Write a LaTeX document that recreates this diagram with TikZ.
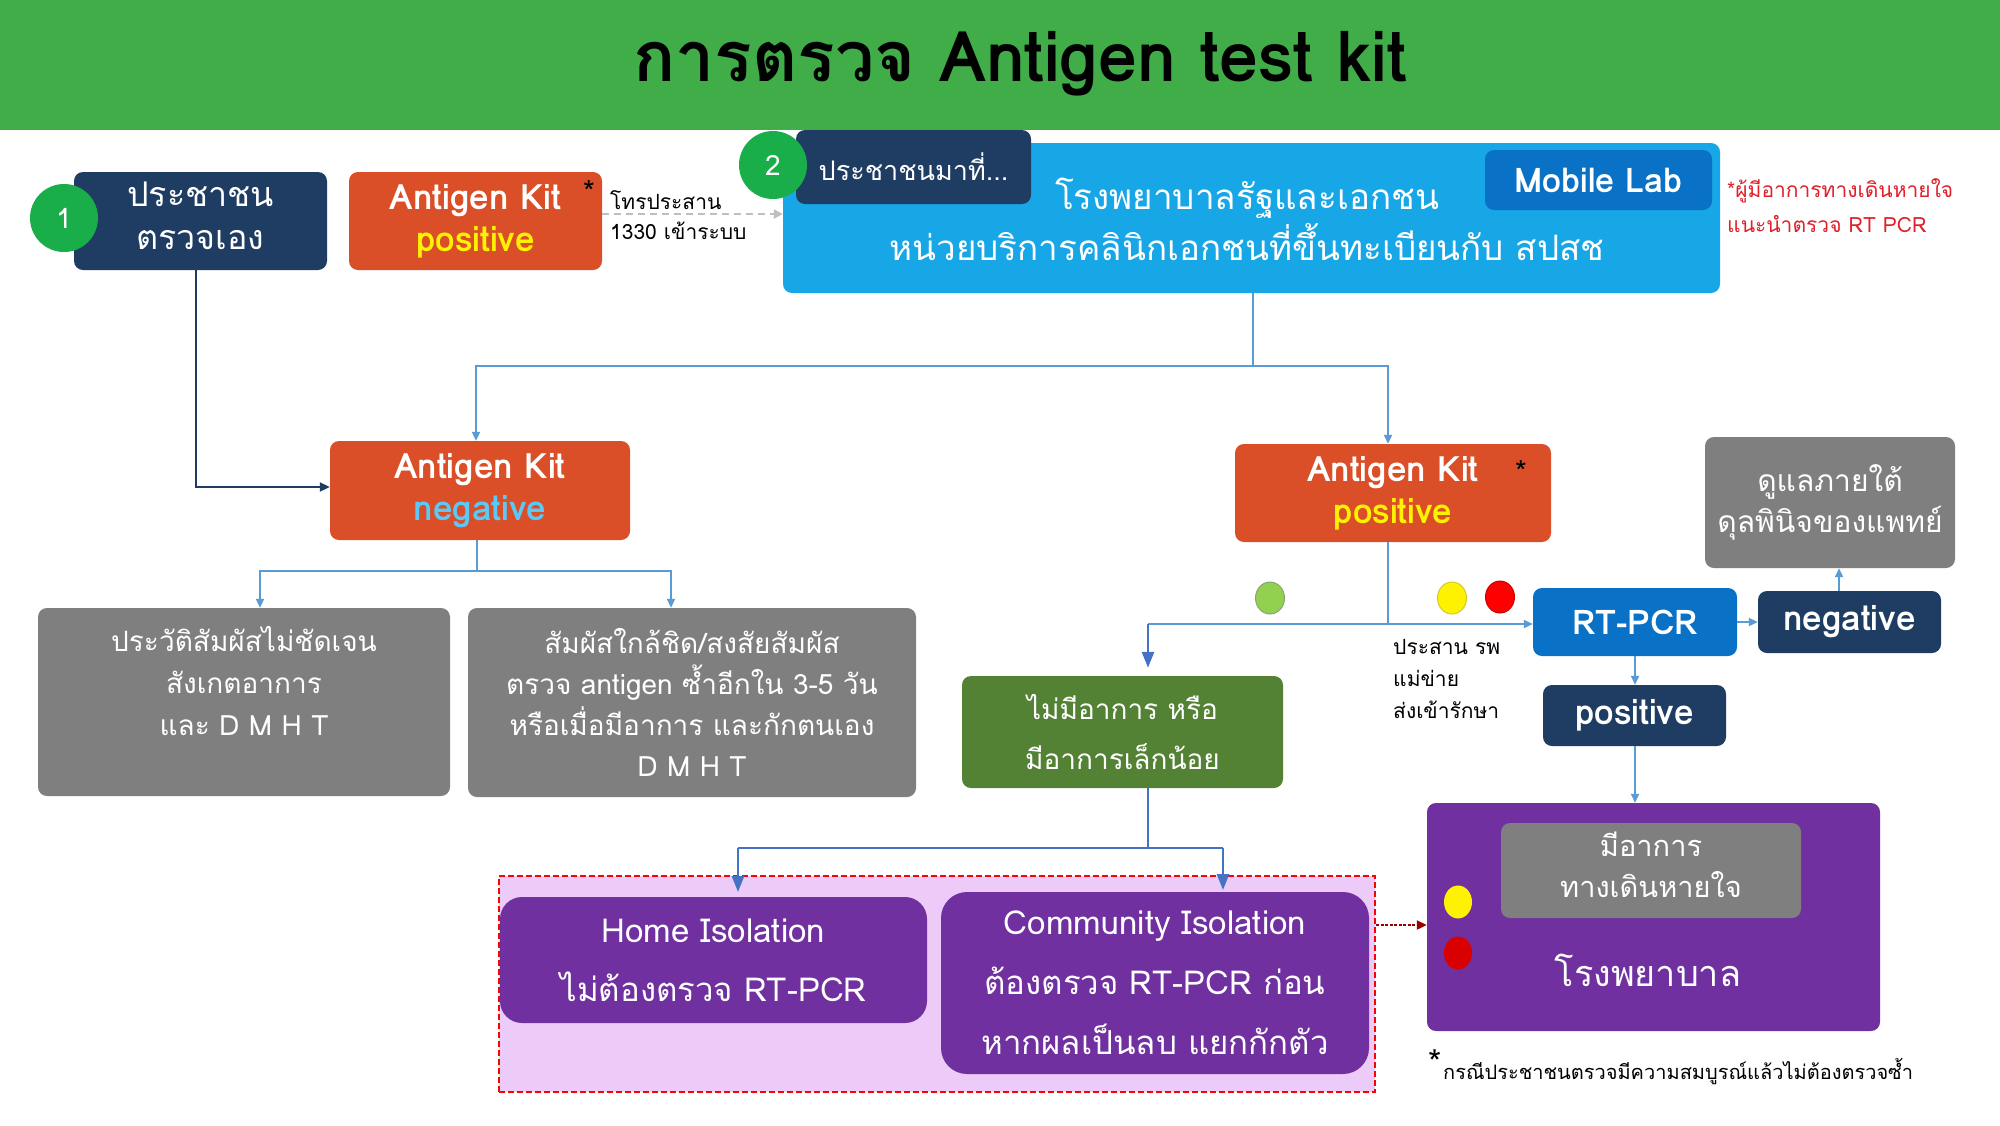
\documentclass[tikz,border=0pt]{standalone}
\usepackage{fontspec}
\setmainfont[Script=Thai]{Loma}
\usetikzlibrary{arrows.meta,shapes.geometric}
\definecolor{titlegreen}{HTML}{41AD49}
\definecolor{navy}{HTML}{1F3D63}
\definecolor{orangebox}{HTML}{DA4F27}
\definecolor{skyblue}{HTML}{17A6E6}
\definecolor{midblue}{HTML}{0A72C6}
\definecolor{graybox}{HTML}{7F7F7F}
\definecolor{greenbox}{HTML}{548235}
\definecolor{purplebox}{HTML}{7030A0}
\definecolor{lilac}{HTML}{EDCBF8}
\definecolor{connblue}{HTML}{5B9BD5}
\definecolor{arrowblue}{HTML}{4472C4}
\definecolor{circgreen}{HTML}{19AE4A}
\definecolor{dotgreen}{HTML}{92D050}
\definecolor{notered}{HTML}{E0202A}
\definecolor{negblue}{HTML}{5BC8F5}
\definecolor{posyellow}{HTML}{FFF200}
\newcommand\myfs[2]{\fontsize{#1}{#2}\selectfont}
\begin{document}
\begin{tikzpicture}[x=1pt,y=-1pt,
  box/.style={rounded corners=9pt, text=white, align=center, inner sep=0pt, anchor=center},
  plain/.style={inner sep=0pt, align=left, anchor=west},
  conn/.style={draw=connblue, line width=2pt},
  connarrow/.style={conn, -{Triangle[length=9pt,width=8pt]}},
  bluearrow/.style={draw=arrowblue, line width=2.6pt, -{Triangle[length=16pt,width=12pt]}},
  numcirc/.style={circle, fill=circgreen, text=white, inner sep=0pt, minimum size=68pt, font=\myfs{28}{30}},
  dot/.style={ellipse, inner sep=0pt, minimum width=29pt, minimum height=32pt}
]
\useasboundingbox (0,0) rectangle (2000,1125);
\fill[white] (0,0) rectangle (2000,1125);
% title bar
\fill[titlegreen] (0,0) rectangle (2000,130);
\node[inner sep=0pt, font=\myfs{70}{76}\bfseries] (title) at (1020,64) {การตรวจ Antigen test kit};

% row 1
\node[box, fill=navy, minimum width=253pt, minimum height=98pt, font=\myfs{34}{43}, text depth=10pt] (p1) at (200.5,221)
  {ประชาชน\\ตรวจเอง};
\node[numcirc] (c1) at (64,218) {1};
\node[box, fill=orangebox, minimum width=253pt, minimum height=98pt, font=\myfs{35}{42}\bfseries] (akp1) at (475.5,221)
  {Antigen Kit\\\textcolor{posyellow}{positive}};
\node[inner sep=0pt, font=\myfs{30}{30}] (ast1) at (589,192) {*};
\node[plain, font=\myfs{21}{24}] (call1) at (610,200) {โทรประสาน};
\node[plain, font=\myfs{21}{24}] (call2) at (610,231) {1330 เข้าระบบ};

\node[box, fill=skyblue, minimum width=937pt, minimum height=150pt] (hos) at (1251.5,218) {};
\node[inner sep=0pt, text=white, align=center, font=\myfs{35}{51}] (hostext) at (1247,219)
  {โรงพยาบาลรัฐและเอกชน\\หน่วยบริการคลินิกเอกชนที่ขึ้นทะเบียนกับ สปสช};
\node[box, fill=navy, minimum width=235pt, minimum height=74pt, font=\myfs{27}{30}] (pm) at (913.5,167)
  {ประชาชนมาที่...};
\node[numcirc] (c2) at (773,165) {2};
\node[box, fill=midblue, minimum width=227pt, minimum height=60pt, font=\myfs{34}{36}\bfseries] (mobile) at (1598.5,180)
  {Mobile Lab};
\node[plain, text=notered, font=\myfs{21}{24}] (note1) at (1727,191) {*ผู้มีอาการทางเดินหายใจ};
\node[plain, text=notered, font=\myfs{21}{24}] (note2) at (1727,224) {แนะนำตรวจ RT PCR};

% row 2
\node[box, fill=orangebox, minimum width=300pt, minimum height=99pt, font=\myfs{35}{42}\bfseries] (akn) at (480,490.5)
  {Antigen Kit\\\textcolor{negblue}{negative}};
\node[box, fill=orangebox, minimum width=316pt, minimum height=98pt, font=\myfs{35}{42}\bfseries] (akp2) at (1393,493)
  {Antigen Kit\\\textcolor{posyellow}{positive}};
\node[inner sep=0pt, font=\myfs{30}{30}] (ast2) at (1521,472) {*};
\node[box, fill=graybox, minimum width=250pt, minimum height=131pt, font=\myfs{30}{41}] (care) at (1830,502.5)
  {ดูแลภายใต้\\ดุลพินิจของแพทย์};

% row 3
\node[box, fill=graybox, minimum width=412pt, minimum height=188pt, font=\myfs{28}{42}, text depth=42pt] (g1) at (244,702)
  {ประวัติสัมผัสไม่ชัดเจน\\สังเกตอาการ\\และ D M H T};
\node[box, fill=graybox, minimum width=448pt, minimum height=189pt, font=\myfs{28}{41}] (g2) at (692,702.5)
  {สัมผัสใกล้ชิด/สงสัยสัมผัส\\ตรวจ antigen ซ้ำอีกใน 3-5 วัน\\หรือเมื่อมีอาการ และกักตนเอง\\D M H T};
\node[dot, fill=dotgreen, draw=greenbox!70, line width=1pt] (dg) at (1270,598) {};
\node[dot, fill=yellow, draw=yellow!80!black, line width=1pt] (dy) at (1452,598) {};
\node[dot, fill=red, draw=red!80!black, line width=1pt] (dr) at (1500,597) {};
\node[box, fill=midblue, minimum width=204pt, minimum height=68pt, font=\myfs{34}{40}\bfseries] (rt) at (1635,622)
  {RT-PCR};
\node[box, fill=navy, minimum width=183pt, minimum height=62pt, font=\myfs{35}{40}\bfseries] (neg) at (1849.5,622)
  {negative};
\node[box, fill=navy, minimum width=183pt, minimum height=61pt, font=\myfs{35}{40}\bfseries] (pos) at (1634.5,715.5)
  {positive};
\node[plain, align=left, font=\myfs{21}{32}] (coord) at (1393,679) {ประสาน รพ\\แม่ข่าย\\ส่งเข้ารักษา};
\node[box, fill=greenbox, minimum width=321pt, minimum height=112pt, font=\myfs{28}{50}] (mild) at (1122.5,732)
  {ไม่มีอาการ หรือ\\มีอาการเล็กน้อย};

% bottom
\node[draw=red, fill=lilac, dash pattern=on 6pt off 3pt, line width=2.5pt,
  minimum width=876pt, minimum height=216pt, inner sep=0pt] (iso) at (937,984) {};
\node[box, rounded corners=22pt, fill=purplebox, minimum width=427pt, minimum height=126pt, font=\myfs{33}{59}] (home) at (713.5,960)
  {Home Isolation\\ไม่ต้องตรวจ RT-PCR};
\node[box, rounded corners=26pt, fill=purplebox, minimum width=428pt, minimum height=182pt, font=\myfs{33}{60}] (comm) at (1155,983)
  {Community Isolation\\ต้องตรวจ RT-PCR ก่อน\\หากผลเป็นลบ แยกกักตัว};
\node[box, fill=purplebox, minimum width=453pt, minimum height=228pt] (hosp) at (1653.5,917) {};
\node[box, fill=graybox, minimum width=300pt, minimum height=95pt, font=\myfs{29}{41}, text depth=12pt] (sym) at (1651,870.5)
  {มีอาการ\\ทางเดินหายใจ};
\node[inner sep=0pt, text=white, font=\myfs{36}{40}] (hosptext) at (1648,970) {โรงพยาบาล};
\node[dot, fill=yellow, minimum width=28pt, minimum height=33pt] (hy) at (1458,902) {};
\node[dot, fill=red!85!black, minimum width=28pt, minimum height=33pt] (hr) at (1458,953) {};
\node[inner sep=0pt, font=\myfs{34}{34}] (fstar) at (1435,1062) {*};
\node[plain, font=\myfs{20}{24}] (foot) at (1443,1071) {กรณีประชาชนตรวจมีความสมบูรณ์แล้วไม่ต้องตรวจซ้ำ};

% connectors
\coordinate (j1) at (1253,366);
\draw[conn] (hos.south -| j1) -- (j1);
\draw[connarrow] (j1) -- (476,366) -- (akn.north -| 476,0);
\draw[connarrow] (j1) -- (1388,366) -- (akp2.north -| 1388,0);
\draw[draw=navy, line width=2pt, -{Triangle[length=10pt,width=9pt]}] (p1.south -| 196,0) -- (196,487) -- (akn.west |- 0,487);
\draw[draw=gray!50, dash pattern=on 7pt off 5pt, line width=2.5pt, -{Triangle[length=9pt,width=9pt]}] (akp1.east |- 0,214) -- (hos.west |- 0,214);
\coordinate (j2) at (477,571);
\draw[conn] (akn.south -| j2) -- (j2);
\draw[connarrow] (j2) -- (260,571) -- (g1.north -| 260,0);
\draw[connarrow] (j2) -- (671,571) -- (g2.north -| 671,0);
\coordinate (j3) at (1388,624);
\draw[conn] (akp2.south -| j3) -- (j3);
\draw[connarrow] (j3) -- (rt.west |- j3);
\draw[conn] (j3) -- (1148,624);
\draw[bluearrow, shorten >=8pt] (1148,624) -- (mild.north -| 1148,0);
\draw[connarrow] (rt.east) -- (neg.west);
\draw[connarrow] (neg.north -| 1839,0) -- (care.south -| 1839,0);
\draw[connarrow] (rt.south) -- (pos.north -| rt.south);
\draw[connarrow] (pos.south -| 1635,0) -- (hosp.north -| 1635,0);
\coordinate (j4) at (1148,848);
\draw[draw=arrowblue, line width=2pt] (mild.south -| j4) -- (j4) -- (738,848) (j4) -- (1223,848);
\draw[bluearrow] (738,848) -- (738,892);
\draw[bluearrow] (1223,848) -- (1223,890);
\draw[draw=red!60!black, dash pattern=on 3pt off 1.5pt, line width=2pt, -{Triangle[length=10pt,width=9pt]}] (iso.east |- 0,925) -- (hosp.west |- 0,925);
\end{tikzpicture}
\end{document}
